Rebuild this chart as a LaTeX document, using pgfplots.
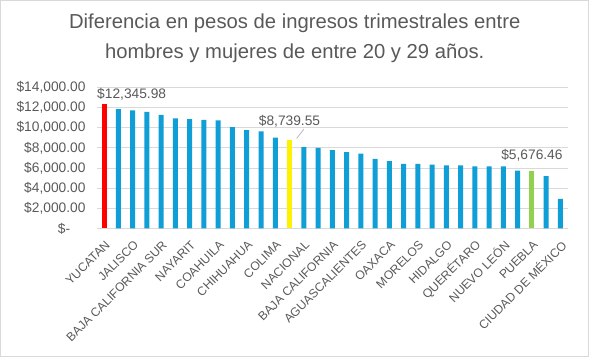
\documentclass[border=0pt]{standalone}
\usepackage{pgfplots}
\pgfplotsset{compat=1.18}
\usepackage{fontspec}
\setmainfont{Liberation Sans}
\definecolor{barblue}{HTML}{0F9ED5}
\definecolor{bargreen}{HTML}{92D050}
\definecolor{txt}{HTML}{595959}
\definecolor{gridc}{HTML}{D9D9D9}
\begin{document}
\begin{tikzpicture}[x=1bp,y=1bp]
\draw[gridc, line width=0.8bp] (0.5,0.8) rectangle (588,356.5);
\node[txt, font=\fontsize{20.3}{24}\selectfont] at (294.5,334) {Diferencia en pesos de ingresos trimestrales entre};
\node[txt, font=\fontsize{20.3}{24}\selectfont] at (294.5,304) {hombres y mujeres de entre 20 y 29 años.};
\begin{axis}[
  at={(97bp,128.7bp)}, anchor=south west,
  scale only axis, width=470bp, height=141bp,
  xmin=-0.5, xmax=32.5, ymin=0, ymax=14000,
  axis lines*=left,
  y axis line style={draw=none},
  x axis line style={draw=gridc, line width=0.8bp},
  major tick length=0pt,
  scaled y ticks=false,
  ymajorgrids, grid style={gridc, line width=0.8bp},
  ytick={0,2000,4000,6000,8000,10000,12000,14000},
  yticklabels={{\$-\hphantom{00}},{\$2,000.00},{\$4,000.00},{\$6,000.00},{\$8,000.00},{\$10,000.00},{\$12,000.00},{\$14,000.00}},
  yticklabel style={font=\fontsize{13.8}{15}\selectfont, text=txt, xshift=-8bp},
  xtick={0,2,...,32},
  xticklabels={YUCATAN,JALISCO,BAJA CALIFORNIA SUR,NAYARIT,COAHUILA,CHIHUAHUA,COLIMA,NACIONAL,BAJA CALIFORNIA,AGUASCALIENTES,OAXACA,MORELOS,HIDALGO,QUERÉTARO,NUEVO LEÓN,PUEBLA,CIUDAD DE MÉXICO},
  xticklabel style={font=\fontsize{12.2}{14}\selectfont, text=txt, rotate=45, anchor=east, xshift=-4.4bp, yshift=-12.7bp},
  clip=false,
]
\addplot[ybar, bar width=5bp, bar shift=0pt, fill=barblue, draw=none] coordinates {
(1,11830) (2,11700) (3,11570) (4,11270) (5,10910) (6,10840) (7,10780) (8,10710)
(9,10050) (10,9750) (11,9620) (12,9020)
(14,8060) (15,7990) (16,7760) (17,7560) (18,7430) (19,6900) (20,6670) (21,6400)
(22,6400) (23,6340) (24,6270) (25,6270) (26,6170) (27,6170) (28,6170) (29,5740)
(31,5180) (32,2930)};
\addplot[ybar, bar width=5bp, bar shift=0pt, fill=red, draw=none] coordinates {(0,12345.98)};
\addplot[ybar, bar width=5bp, bar shift=0pt, fill=yellow, draw=none] coordinates {(13,8739.55)};
\addplot[ybar, bar width=5bp, bar shift=0pt, fill=bargreen, draw=none] coordinates {(30,5676.46)};
\node[text=txt, font=\fontsize{13.8}{15}\selectfont, anchor=south west, inner sep=0pt] at (axis cs:-0.5,12345.98) [yshift=4bp] {\$12,345.98};
\node[text=txt, font=\fontsize{13.8}{15}\selectfont, anchor=south, inner sep=0pt] at (axis cs:13,8739.55) [yshift=13bp] {\$8,739.55};
\draw[gray!70, line width=0.6bp] (axis cs:13,8739.55) ++(0,2bp) -- ++(0,9bp);
\node[text=txt, font=\fontsize{13.8}{15}\selectfont, anchor=south, inner sep=0pt] at (axis cs:30,5676.46) [yshift=10bp] {\$5,676.46};
\end{axis}
\end{tikzpicture}
\end{document}
